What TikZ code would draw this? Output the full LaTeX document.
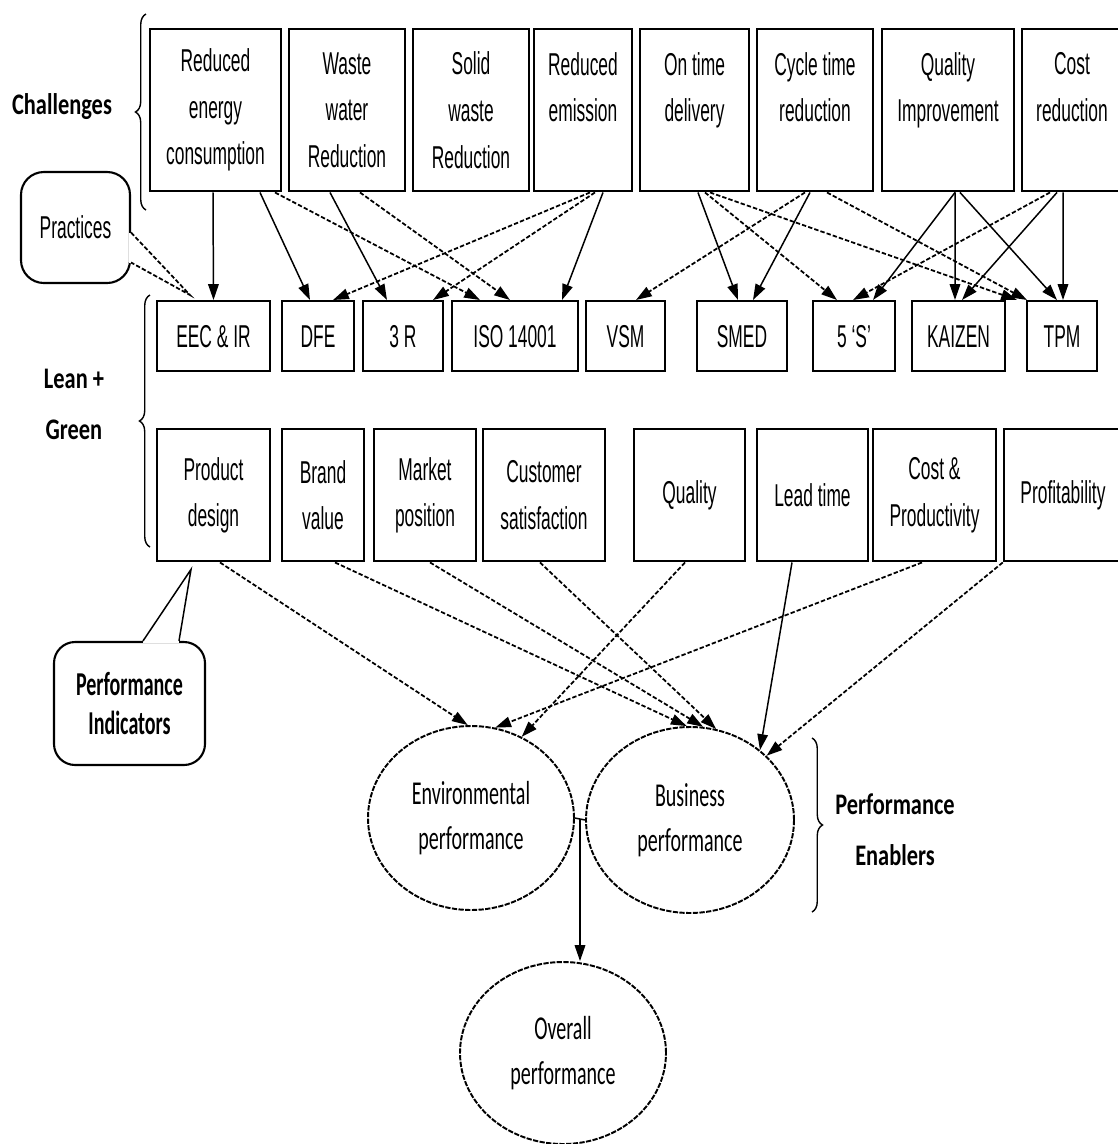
\documentclass[tikz,border=0pt]{standalone}
\usepackage{fontspec}
\setmainfont{Liberation Sans}[FakeStretch=0.55]
\newfontfamily\lblfont{Carlito}[FakeStretch=0.75]
\newfontfamily\ellfont{Carlito}[FakeStretch=0.6]
\usetikzlibrary{arrows.meta, shapes.geometric, decorations.pathreplacing, calc}
\def\pxu{0.02cm}
\tikzset{
    box/.style={draw, line width=1.4pt, align=center, inner sep=0pt}, % 方框
    arr/.style={-{Triangle[length=9pt, width=6pt]}, line width=0.85pt}, % 实线箭头
    darr/.style={arr, line width=1pt, dash pattern=on 2.5pt off 1.2pt}, % 虚线箭头
    ell/.style={ellipse, draw, line width=1.1pt, dash pattern=on 3pt off 0.8pt, align=center, font=\ellfont\fontsize{19}{25.5}\selectfont}, % 椭圆
    lbl/.style={align=center, font=\lblfont\bfseries\fontsize{17}{29}\selectfont}, % 标签
    brc/.style={decorate, decoration={brace, amplitude=6pt}, line width=0.8pt} % 大括号
}

\begin{document}
\begin{tikzpicture}[x=0.02cm, y=-0.02cm, font=\fontsize{18}{26.5}\selectfont]
    \useasboundingbox (0,0) rectangle (1118,1144);

    % 三排方框
    \foreach \nm/\xa/\xb/\txt in {c1/150/281/{Reduced\\energy\\consumption}, c2/289/405/{Waste\\water\\Reduction},
        c3/413/529/{Solid\\waste\\Reduction}, c4/534/632/{Reduced\\emission\\\mbox{}}, c5/640/749/{On time\\delivery\\\mbox{}},
        c6/757/873/{Cycle time\\reduction\\\mbox{}}, c7/882/1014/{Quality\\Improvement\\\mbox{}}, c8/1022/1122/{Cost\\reduction\\\mbox{}}}
        {\node[box, minimum width={(\xb-\xa)*\pxu}, minimum height=162*\pxu, anchor=north] (\nm) at ({(\xa+\xb)/2}, 28) {\txt};}
    \foreach \nm/\xa/\xb/\txt in {p1/157/270/{EEC \& IR}, p2/282/354/{DFE}, p3/363/443/{3 R}, p4/452/578/{ISO 14001},
        p5/586/665/{VSM}, p6/697/787/{SMED}, p7/813/895/{5 `S'}, p8/912/1005/{KAIZEN}, p9/1027/1097/{TPM}}
        {\node[box, minimum width={(\xb-\xa)*\pxu}, minimum height=70*\pxu, anchor=north] (\nm) at ({(\xa+\xb)/2}, 300) {\txt};}
    \foreach \nm/\xa/\xb/\txt in {i1/157/270/{Product\\design}, i2/282/364/{Brand\\value}, i3/374/476/{Market\\position},
        i4/483/605/{Customer\\satisfaction}, i5/634/745/{Quality}, i6/757/868/{Lead time}, i7/873/996/{Cost \&\\Productivity},
        i8/1004/1122/{Profitability}}
        {\node[box, minimum width={(\xb-\xa)*\pxu}, minimum height=132*\pxu, anchor=north] (\nm) at ({(\xa+\xb)/2}, 428) {\txt};}

    % 椭圆
    \node[ell, minimum width=206*\pxu, minimum height=184*\pxu] (env) at (471,818) {Environmental\\performance};
    \node[ell, minimum width=208*\pxu, minimum height=186*\pxu] (bus) at (690,820) {Business\\performance};
    \node[ell, minimum width=206*\pxu, minimum height=182*\pxu] (ovr) at (563,1053) {Overall\\performance};

    % 标签与括号
    \node[lbl] (chal) at (62,107) {Challenges};
    \node[lbl] (lg) at (74,404) {Lean +\\Green};
    \node[lbl] (pen) at (895,830) {Performance\\Enablers};
    \draw[brc] (146,210) -- (146,14);
    \draw[brc] (150,547) -- (150,295);
    \draw[brc] (812,738) -- (812,912);

    % 说明框
    \node[draw, rounded corners=13pt, line width=1.2pt, minimum width=109*\pxu, minimum height=111*\pxu] (prac) at (75.5,227.5) {Practices};
    \draw[white, line width=2pt] ([yshift=-0.1cm]prac.east) -- ([yshift=-0.7cm]prac.east);
    \draw[line width=1pt, dash pattern=on 2.5pt off 1.2pt] ([yshift=-0.1cm]prac.east) -- ([xshift=-0.47cm, yshift=0.1cm]p1.north)
        -- ([yshift=-0.7cm]prac.east);
    \node[draw, rounded corners=12pt, line width=1.2pt, minimum width=151*\pxu, minimum height=123*\pxu, align=center,
        font=\ellfont\bfseries\fontsize{19}{22}\selectfont] (pind) at (129.5,703.5) {Performance\\Indicators};
    \draw[white, line width=2pt] ([xshift=0.27cm]pind.north) -- ([xshift=0.99cm]pind.north);
    \draw[line width=0.85pt] ([xshift=0.27cm]pind.north) -- ([xshift=-0.45cm, yshift=-0.14cm]i1.south) -- ([xshift=0.99cm]pind.north);

    % 挑战 -> 实践
    \draw[arr] ([xshift=-0.05cm]c1.south) -- (p1.north);
    \draw[arr] ([xshift=0.89cm]c1.south) -- ([xshift=-0.16cm]p2.north);
    \draw[arr] ([xshift=-0.34cm]c2.south) -- ([xshift=-0.32cm]p3.north);
    \draw[arr] ([xshift=0.4cm]c4.south) -- ([xshift=0.94cm]p4.north);
    \draw[arr] ([xshift=0.07cm]c5.south) -- ([xshift=-0.08cm]p6.north);
    \draw[arr] ([xshift=-0.1cm]c6.south) -- ([xshift=0.22cm]p6.north);
    \draw[arr] ([xshift=0.14cm]c7.south) -- ([xshift=0.38cm]p7.north);
    \draw[arr] ([xshift=0.14cm]c7.south) -- ([xshift=-0.07cm]p8.north);
    \draw[arr] ([xshift=0.24cm]c7.south) -- ([xshift=-0.1cm]p9.north);
    \draw[arr] ([xshift=-0.3cm]c8.south) -- ([xshift=0.07cm]p8.north);
    \draw[arr] ([xshift=-0.18cm]c8.south) -- ([xshift=0.02cm]p9.north);
    \draw[darr] ([xshift=1.19cm]c1.south) -- ([xshift=-0.7cm]p4.north);
    \draw[darr] ([xshift=0.26cm]c2.south) -- ([xshift=-0.1cm]p4.north);
    \draw[darr] ([xshift=0.14cm]c4.south) -- ([xshift=0.3cm]p2.north);
    \draw[darr] ([xshift=0.24cm]c4.south) -- ([xshift=0.6cm]p3.north);
    \draw[darr] ([xshift=-0.2cm]c6.south) -- ([xshift=0.21cm]p5.north);
    \draw[darr] ([xshift=0.21cm]c5.south) -- ([xshift=-0.34cm]p7.north);
    \draw[darr] ([xshift=0.31cm]c5.south) -- ([xshift=-0.9cm]p9.north);
    \draw[darr] ([xshift=0.24cm]c6.south) -- ([xshift=-0.7cm]p9.north);
    \draw[darr] ([xshift=-0.44cm]c8.south) -- ([xshift=-0.02cm]p7.north);

    % 指标 -> 绩效
    \draw[darr] ([xshift=0.13cm]i1.south) -- (env.92);
    \draw[darr] ([xshift=-0.09cm]i5.south) -- (env.58);
    \draw[darr] ([xshift=-0.25cm]i7.south) -- (env.75);
    \draw[darr] ([xshift=0.24cm]i2.south) -- (bus.92);
    \draw[darr] ([xshift=0.1cm]i3.south) -- (bus.82);
    \draw[darr] ([xshift=-0.08cm]i4.south) -- (bus.74);
    \draw[arr] ([xshift=-0.41cm]i6.south) -- (bus.45);
    \draw[darr] (i8.south west) -- (bus.40);

    % 合并到总体绩效
    \draw[line width=0.85pt] (env.east) -- (bus.west);
    \coordinate (jn) at ($(env.east)!0.5!(bus.west)$);
    \draw[arr] (jn) -- (jn |- ovr.north);
\end{tikzpicture}
\end{document}
